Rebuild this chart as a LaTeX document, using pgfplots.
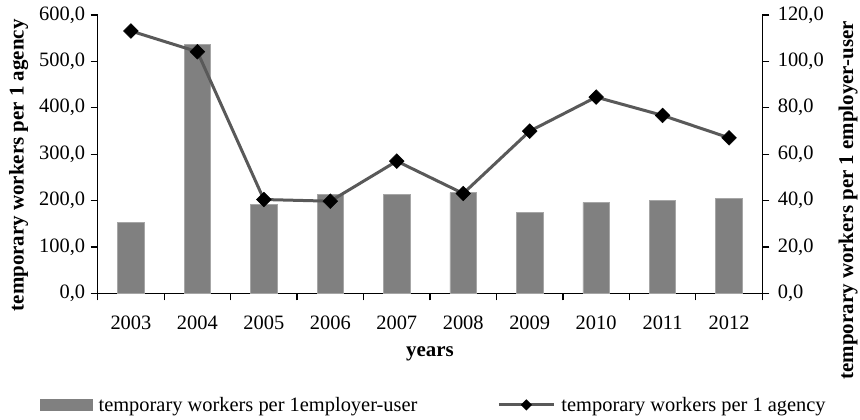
\documentclass[border=0pt]{standalone}
\usepackage{fontspec}
\setmainfont{Liberation Serif}
\usepackage{pgfplots}
\usepackage{pgfplotstable}
\pgfplotsset{compat=1.18}
\definecolor{barfill}{HTML}{808080}
\definecolor{baredge}{HTML}{A6A6A6}
\definecolor{linegray}{HTML}{595959}
\newcommand\labfont{\fontsize{21}{24}\selectfont\bfseries}

% idx: category position, agency: left axis (line), user: right axis (bars)
\pgfplotstableread{
idx year agency user
0 2003 565.5 30.6
1 2004 520.8 107.4
2 2005 202.2 38.4
3 2006 198.6 42.6
4 2007 284.9 42.6
5 2008 215.2 43.4
6 2009 349.6 34.8
7 2010 423.0 39.2
8 2011 383.5 40.0
9 2012 335.2 40.8
}\datatable

\begin{document}
\begin{tikzpicture}
\path[use as bounding box] (0,0) rectangle (860bp,420bp);
\pgfplotsset{
  common/.style={
    width=664.6bp, height=278.3bp, scale only axis,
    at={(97.7bp,126.7bp)}, anchor=south west,
    xmin=-0.5, xmax=9.5, ymin=0,
    axis line style={line width=1.2bp},
    tick style={line width=1.2bp, black},
    ytick align=outside, major tick length=7bp,
    tick label style={font=\fontsize{20.5}{23}\selectfont},
    /pgf/number format/fixed,
    /pgf/number format/fixed zerofill,
    /pgf/number format/precision=1,
    /pgf/number format/use comma,
    /pgf/number format/1000 sep={},
    /pgf/number format/assume math mode=true,
  },
}
\begin{axis}[common,
  ymax=120, ytick={0,20,...,120},
  axis x line*=bottom, axis y line*=right,
  xtick={-0.5,0.5,...,9.5}, x tick label as interval,
  xticklabels={2003,2004,2005,2006,2007,2008,2009,2010,2011,2012},
  xtick align=outside,
  xticklabel style={yshift=-12bp},
  yticklabel style={xshift=5bp},
  xlabel={years},
  every axis x label/.style={at={(axis description cs:0.5,-0.218)}, anchor=center, font=\labfont},
  ylabel={temporary workers per 1 employer-user},
  every axis y label/.style={at={(axis description cs:1.129,0.334)}, anchor=center, rotate=90, font=\labfont},
]
\addplot[ybar, bar width=26.5bp, fill=barfill, draw=baredge, line width=0.8bp]
  table[x=idx, y=user] {\datatable};
\end{axis}
\begin{axis}[common,
  ymax=600, ytick={0,100,...,600},
  axis x line=none, axis y line*=left,
  yticklabel style={xshift=-2bp},
  ylabel={temporary workers per 1 agency},
  every axis y label/.style={at={(axis description cs:-0.119,0.46)}, anchor=center, rotate=90, font=\labfont},
  legend style={at={(axis description cs:-0.0868,-0.401)}, anchor=west,
    draw=none, fill=none, inner sep=0pt, legend columns=2,
    font=\fontsize{20.5}{24}\selectfont,
    /tikz/every odd column/.append style={column sep=4bp},
    /tikz/every even column/.append style={column sep=78bp}},
  legend cell align=left,
]
\addlegendimage{legend image code/.code={\fill[barfill] (0bp,-5.5bp) rectangle (52bp,5.5bp);}}
\addlegendentry{temporary workers per 1employer-user}
\addplot[linegray, line width=3bp, mark=square*, mark size=5.2bp,
  mark options={rotate=45, fill=black, draw=black, line width=0.5bp},
  legend image code/.code={
    \draw[linegray, line width=3bp] (0bp,0bp) -- (55bp,0bp);
    \fill[black] (24bp,0bp) -- (27.5bp,3.5bp) -- (31bp,0bp) -- (27.5bp,-3.5bp) -- cycle;}]
  table[x=idx, y=agency] {\datatable};
\addlegendentry{temporary workers per 1 agency}
\end{axis}
\end{tikzpicture}
\end{document}
